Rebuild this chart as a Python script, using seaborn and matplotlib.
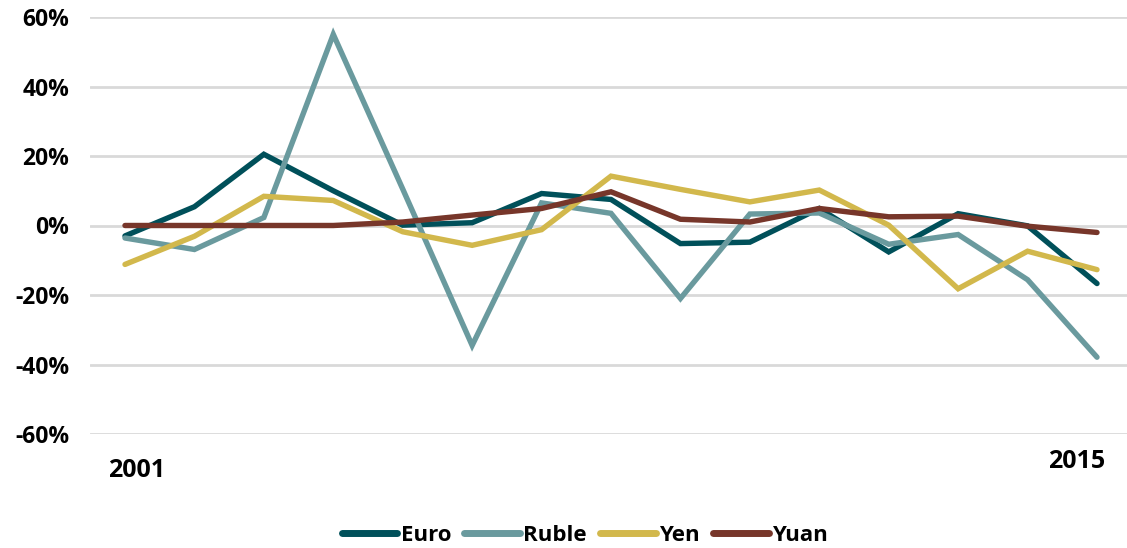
import numpy as np
import pandas as pd
import matplotlib
matplotlib.use("Agg")
import matplotlib.pyplot as plt
import matplotlib.transforms as mtransforms
import seaborn as sns

years = list(range(2001, 2016))
euro = [-3.0, 5.4, 20.5, 10.0, 0.1, 0.8, 9.2, 7.5, -5.2, -4.8, 4.9, -7.6, 3.4, -0.1, -16.7]
ruble = [-3.6, -6.9, 2.3, 55.0, 10.5, -34.5, 6.5, 3.5, -21.0, 3.3, 3.6, -5.4, -2.6, -15.6, -37.9]
yen = [-11.2, -3.1, 8.4, 7.2, -1.8, -5.7, -1.2, 14.2, 10.4, 6.8, 10.2, 0.1, -18.2, -7.4, -12.7]
yuan = [0.0, 0.0, 0.0, 0.0, 1.0, 3.0, 4.9, 9.7, 1.8, 1.0, 4.9, 2.5, 2.7, -0.2, -2.0]

series_names = ["Euro", "Ruble", "Yen", "Yuan"]
colors = ["#00505a", "#6a9a9e", "#d2b84c", "#77362a"]

df = pd.DataFrame({"Year": years, "Euro": euro, "Ruble": ruble, "Yen": yen, "Yuan": yuan})
long = df.melt(id_vars="Year", var_name="Currency", value_name="Change")

sns.set_theme(style="white")
plt.rcParams["font.family"] = ["Open Sans", "DejaVu Sans"]
plt.rcParams["font.weight"] = "bold"
plt.rcParams["text.color"] = "black"
plt.rcParams["ytick.color"] = "black"

fig = plt.figure(figsize=(11.27, 5.48), dpi=100)
ax = fig.add_axes([90 / 1127, (548 - 434) / 548, (1127 - 90) / 1127, 417 / 548])

sns.lineplot(
    data=long, x="Year", y="Change", hue="Currency",
    hue_order=series_names, palette=colors, linewidth=3.9, ax=ax,
)
for line in ax.lines:
    line.set_solid_capstyle("round")
    line.set_solid_joinstyle("miter")

ax.set_ylim(-60, 60)
ax.set_xlim(2001 - 35 / 69.43, 2015 + 30 / 69.43)
yticks = [-60, -40, -20, 0, 20, 40, 60]
ax.set_yticks(yticks)
ax.set_yticklabels([f"{t}%" for t in yticks], fontsize=16.5, fontweight="bold")
ax.tick_params(axis="y", length=0, pad=15, labelcolor="black")
ax.set_xticks([])
ax.yaxis.grid(True, color="#d9d9d9", linewidth=2)
ax.set_axisbelow(True)
for s in ax.spines.values():
    s.set_visible(False)
ax.set_xlabel("")
ax.set_ylabel("")

# only first and last year are labelled, at slightly different heights
trans = mtransforms.blended_transform_factory(ax.transData, ax.transAxes)
ax.text(years[0] - 17 / 69.43, -0.0887, str(years[0]), transform=trans,
        ha="left", va="center", fontsize=18, fontweight="bold", color="black")
ax.text(years[-1] - 49 / 69.43, -0.067, str(years[-1]), transform=trans,
        ha="left", va="center", fontsize=18, fontweight="bold", color="black")

handles, labels = ax.get_legend_handles_labels()
leg = ax.legend(
    handles, labels, loc="center", bbox_to_anchor=(0.477, -0.244), ncol=4,
    frameon=False, handlelength=2.5, handletextpad=0.15,
    columnspacing=0.6, prop={"weight": "bold", "size": 16},
)
for t in leg.get_texts():
    t.set_color("black")
for h in leg.get_lines():
    h.set_linewidth(5)
    h.set_solid_capstyle("round")

fig.savefig("out.png", dpi=100)
